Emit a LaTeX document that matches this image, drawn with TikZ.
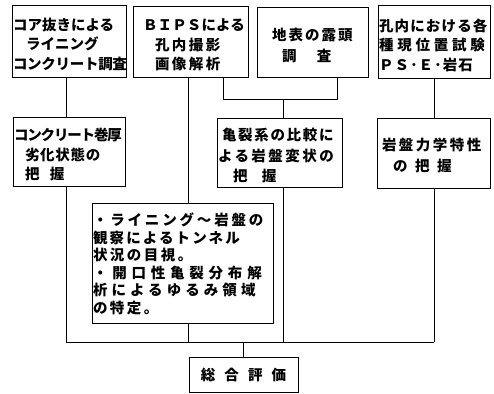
\documentclass[tikz,border=0pt]{standalone}
\usepackage{fontspec}
\setmainfont{Noto Sans CJK JP}
\usetikzlibrary{calc}
\newcommand\ls[2]{{\addfontfeatures{LetterSpace=#1}#2}}
\newcommand\dn[1]{\rule{0pt}{#1pt}}
\tikzset{
  box/.style={draw, line width=0.9pt, inner xsep=1pt, inner ysep=0pt, align=left,
    font={\fontsize{14.5}{19.5}\selectfont\bfseries}},
  conn/.style={line width=0.9pt}
}
\begin{document}
\begin{tikzpicture}[x=1pt,y=-1pt]
\useasboundingbox (0,0) rectangle (494,393);
% top row
\node[box, minimum width=114, minimum height=72, text width=112pt] (b1) at (69,41)
  {\dn{18.5}コア抜きによる\\\hspace*{13pt}ライニング\\\ls{-2}{コンクリート調査}};
\node[box, minimum width=115, minimum height=71, text width=113pt] (b2) at (190.5,41.5)
  {\dn{18.5}\hspace*{9pt}\ls{1}{ＢＩＰＳによる}\\\hspace*{21pt}\ls{17}{孔内撮影}\\\hspace*{21pt}\ls{17}{画像解析}};
\node[box, minimum width=111, minimum height=70, text width=109pt,
  font={\fontsize{14.5}{21}\selectfont\bfseries}] (b3) at (312.5,42)
  {\dn{18.5}\hspace*{14pt}\ls{14}{地表の露頭}\\\hspace*{24pt}調\hspace{20.5pt}査};
\node[box, minimum width=112, minimum height=73, text width=110pt] (b4) at (434,41.5)
  {\dn{19.5}\ls{8}{孔内における各}\\\ls{26}{種現位置試験}\\\ls{8}{ＰＳ･Ｅ･岩石}};
% second row
\node[box, minimum width=112, minimum height=69, text width=110pt] (b5) at (69,151.5)
  {\dn{18.5}\ls{-8}{コンクリート巻厚}\\\hspace*{11pt}\ls{5}{劣化状態の}\\\hspace*{11pt}把\hspace{10.5pt}握};
\node[box, minimum width=125, minimum height=69, text width=123pt,
  font={\fontsize{14.5}{20.5}\selectfont\bfseries}] (b6) at (279.5,152.5)
  {\dn{18.5}\hspace*{4pt}\ls{11.5}{亀裂系の比較に}\\\ls{17}{よる岩盤変状の}\\\hspace*{15pt}把\hspace{14.5pt}握};
\node[box, minimum width=113, minimum height=70, text width=111pt,
  font={\fontsize{14.5}{21}\selectfont\bfseries}] (b7) at (433.5,153)
  {\dn{16.5}\hspace*{4pt}\ls{17}{岩盤力学特性}\\\hspace*{15pt}\ls{52}{の把握}};
% big box
\node[box, minimum width=181, minimum height=120, text width=179pt,
  font={\fontsize{14.5}{17.6}\selectfont\bfseries}] (big) at (182.5,263)
  {\dn{14.5}\ls{19.5}{・ライニング〜岩盤の}\\\ls{14.7}{観察によるトンネル}\\\ls{17}{状況の目視。}\\
   \ls{33}{・開口性亀裂分布解}\\\ls{28}{析によるゆるみ領域}\\\ls{17}{の特定。}};
% final
\node[draw, line width=0.9pt, minimum width=109, minimum height=35, inner sep=0pt,
  font={\fontsize{14.5}{17}\selectfont\bfseries}] (fin) at (243.5,374.5)
  {\ls{63}{総合評価}};
% connector coordinates
\coordinate (jL) at (66,342);
\coordinate (jR) at (434,342);
\coordinate (xa) at (188,342);
\coordinate (t1) at (223,99);
\coordinate (t2) at (337,99);
\coordinate (t3) at (283,99);
\coordinate (jF) at (243.5,342);
% connectors
\draw[conn] (b1.south -| jL) -- (b5.north -| jL);
\draw[conn] (b5.south -| jL) -- (jL) -- (jR);
\draw[conn] (b2.south -| xa) -- (big.north -| xa);
\draw[conn] (big.south -| xa) -- (xa);
\draw[conn] (b2.south -| t1) -- (t1) -- (t2) -- (b3.south -| t2);
\draw[conn] (t3) -- (b6.north -| t3);
\draw[conn] (b6.south -| t3) -- (t3 |- jL);
\draw[conn] (b4.south -| jR) -- (b7.north -| jR);
\draw[conn] (b7.south -| jR) -- (jR);
\draw[conn] (jF) -- (fin.north);
\end{tikzpicture}
\end{document}
